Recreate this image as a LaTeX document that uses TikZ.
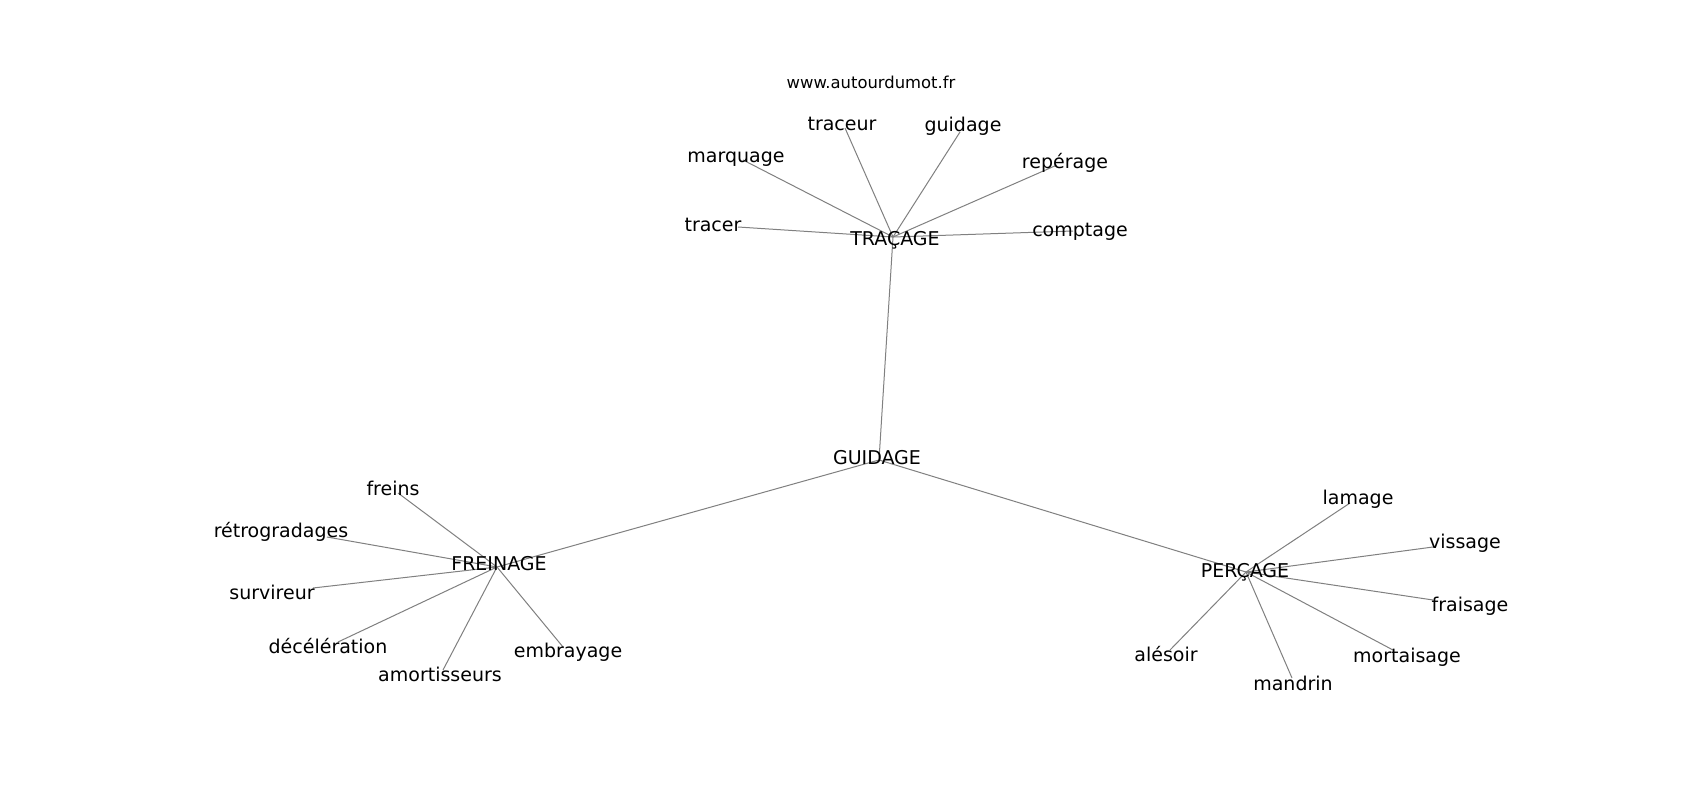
\documentclass[tikz,border=0pt]{standalone}
\usepackage{fontspec}
\setmainfont{DejaVu Sans}
\begin{document}
\begin{tikzpicture}[x=1bp,y=-1bp,
  lbl/.style={anchor=base,inner sep=0pt,text=black,font=\fontsize{19bp}{23bp}\selectfont},
  ttl/.style={anchor=base,inner sep=0pt,text=black,font=\fontsize{16.4bp}{20bp}\selectfont},
  link/.style={draw=gray,line width=1bp}]
\useasboundingbox[fill=white] (0,0) rectangle (1700,800);
% edge end points
\coordinate (pGUI) at (879,460);
\coordinate (pTRA) at (893,237);
\coordinate (pFRE) at (497,567);
\coordinate (pPER) at (1246,572);
\coordinate (ptraceur) at (845,128);
\coordinate (pguidage) at (960,132);
\coordinate (pmarquage) at (743,160);
\coordinate (preperage) at (1057,165);
\coordinate (ptracer) at (738,227);
\coordinate (pcomptage) at (1073,231);
\coordinate (pfreins) at (398,493);
\coordinate (pretro) at (327,537);
\coordinate (psurvireur) at (313,588);
\coordinate (pdecel) at (338,642);
\coordinate (pamort) at (443,670);
\coordinate (pembray) at (563,647);
\coordinate (plamage) at (1350,503);
\coordinate (pvissage) at (1433,547);
\coordinate (pfraisage) at (1433,600);
\coordinate (palesoir) at (1170,650);
\coordinate (pmortaisage) at (1393,650);
\coordinate (pmandrin) at (1292,678);
% connectors
\draw[link] (pGUI) -- (pTRA);
\draw[link] (pGUI) -- (pFRE);
\draw[link] (pGUI) -- (pPER);
\draw[link] (pTRA) -- (ptraceur);
\draw[link] (pTRA) -- (pguidage);
\draw[link] (pTRA) -- (pmarquage);
\draw[link] (pTRA) -- (preperage);
\draw[link] (pTRA) -- (ptracer);
\draw[link] (pTRA) -- (pcomptage);
\draw[link] (pFRE) -- (pfreins);
\draw[link] (pFRE) -- (pretro);
\draw[link] (pFRE) -- (psurvireur);
\draw[link] (pFRE) -- (pdecel);
\draw[link] (pFRE) -- (pamort);
\draw[link] (pFRE) -- (pembray);
\draw[link] (pPER) -- (plamage);
\draw[link] (pPER) -- (pvissage);
\draw[link] (pPER) -- (pfraisage);
\draw[link] (pPER) -- (palesoir);
\draw[link] (pPER) -- (pmortaisage);
\draw[link] (pPER) -- (pmandrin);
% labels
\node[ttl] (title) at (871,88.3) {www.autourdumot.fr};
\node[lbl] (GUIDAGE) at (877,464.3) {GUIDAGE};
\node[lbl] (TRACAGE) at (895,245) {TRAÇAGE};
\node[lbl] (FREINAGE) at (499,570.7) {FREINAGE};
\node[lbl] (PERCAGE) at (1245,577.3) {PERÇAGE};
\node[lbl] (traceur) at (842,130.7) {traceur};
\node[lbl] (guidage) at (963,131.7) {guidage};
\node[lbl] (marquage) at (736,162.7) {marquage};
\node[lbl] (reperage) at (1065,168.3) {repérage};
\node[lbl] (tracer) at (713,231.7) {tracer};
\node[lbl] (comptage) at (1080,236) {comptage};
\node[lbl] (freins) at (393,495) {freins};
\node[lbl] (retro) at (281,537.3) {rétrogradages};
\node[lbl] (survireur) at (272,599) {survireur};
\node[lbl] (decel) at (328,653.3) {décélération};
\node[lbl] (amort) at (440,681) {amortisseurs};
\node[lbl] (embray) at (568,657.3) {embrayage};
\node[lbl] (lamage) at (1358,504) {lamage};
\node[lbl] (vissage) at (1465,548.3) {vissage};
\node[lbl] (fraisage) at (1470,611) {fraisage};
\node[lbl] (alesoir) at (1166,661) {alésoir};
\node[lbl] (mortaisage) at (1407,662.7) {mortaisage};
\node[lbl] (mandrin) at (1293,690) {mandrin};
\end{tikzpicture}
\end{document}
